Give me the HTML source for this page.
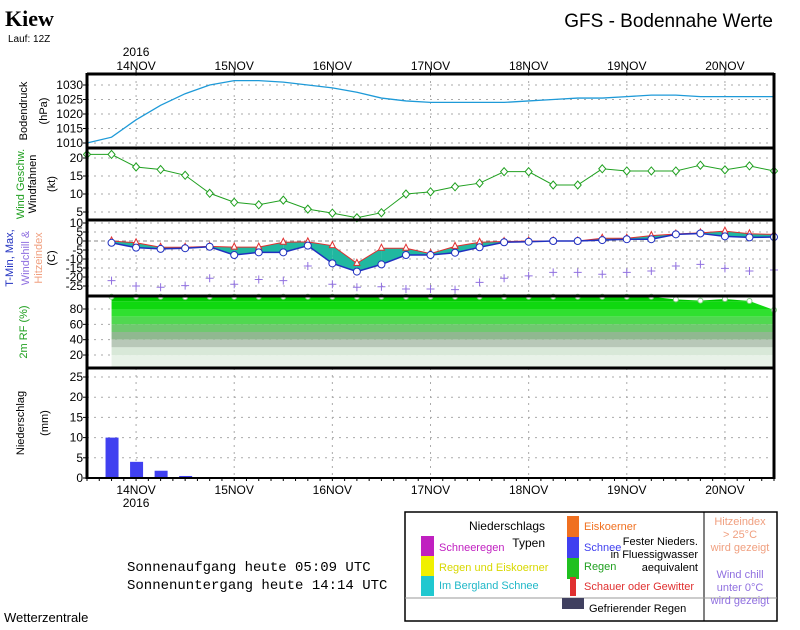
<!DOCTYPE html>
<html><head><meta charset="utf-8"><style>
body{margin:0;background:#fff;width:800px;height:625px;overflow:hidden;font-family:"Liberation Sans",sans-serif}
</style></head><body>
<svg id="c" width="800" height="625" xmlns="http://www.w3.org/2000/svg" font-family="Liberation Sans, sans-serif">
<text x="5" y="26" font-family="Liberation Serif, serif" font-weight="bold" font-size="22">Kiew</text>
<text x="8" y="42" font-size="10">Lauf: 12Z</text>
<text x="773" y="27" text-anchor="end" font-size="19">GFS - Bodennahe Werte</text>
<g id="g"></g>
<text x="127" y="571" font-family="Liberation Mono, monospace" font-size="14">Sonnenaufgang heute 05:09 UTC</text>
<text x="127" y="589" font-family="Liberation Mono, monospace" font-size="14">Sonnenuntergang heute 14:14 UTC</text>
<text x="4" y="622" font-size="13">Wetterzentrale</text>
<g font-size="11">
<rect x="405" y="512" width="372" height="109" fill="none" stroke="#000" stroke-width="1.5"/>
<line x1="704" y1="512" x2="704" y2="621" stroke="#000"/>
<line x1="405" y1="598" x2="777" y2="598" stroke="#999"/>
<text x="545" y="530" text-anchor="end" font-size="12">Niederschlags</text>
<text x="545" y="547" text-anchor="end" font-size="12">Typen</text>
<rect x="421" y="536" width="13" height="20" fill="#c020c0"/><text x="439" y="551" fill="#c020c0">Schneeregen</text>
<rect x="421" y="556" width="13" height="20" fill="#f0f000"/><text x="439" y="571" fill="#d8d800">Regen und Eiskoerner</text>
<rect x="421" y="576" width="13" height="20" fill="#20c8d0"/><text x="439" y="589" fill="#20b8c8">Im Bergland Schnee</text>
<rect x="567" y="516" width="12" height="21" fill="#f07020"/><text x="584" y="530" fill="#f07020">Eiskoerner</text>
<rect x="567" y="537" width="12" height="21" fill="#4040f0"/><text x="584" y="551" fill="#4040f0">Schnee</text>
<rect x="567" y="558" width="12" height="21" fill="#20c020"/><text x="584" y="570" fill="#20a020">Regen</text>
<rect x="570" y="577" width="6" height="19" fill="#e03030"/><text x="584" y="590" fill="#e03030">Schauer oder Gewitter</text>
<rect x="562" y="598" width="22" height="11" fill="#404060"/><text x="589" y="612">Gefrierender Regen</text>
<text x="698" y="545" text-anchor="end">Fester Nieders.</text>
<text x="698" y="558" text-anchor="end">in Fluessigwasser</text>
<text x="698" y="571" text-anchor="end">aequivalent</text>
<g text-anchor="middle" fill="#f0a080"><text x="740" y="525">Hitzeindex</text><text x="740" y="538">&gt; 25°C</text><text x="740" y="551">wird gezeigt</text></g>
<g text-anchor="middle" fill="#9070e0"><text x="740" y="578">Wind chill</text><text x="740" y="591">unter 0°C</text><text x="740" y="604">wird gezeigt</text></g>
</g>
</svg>
<script>
const pressure=[1010,1012,1018,1023,1027,1030,1031.5,1031.5,1031,1030,1029,1027.5,1025.5,1024.5,1024,1024,1024,1024,1024.5,1025,1025.5,1025.5,1026,1026.5,1026.5,1026,1026,1026,1026];
const wind=[21,21,17.5,16.8,15.2,10.2,7.7,7,8.3,5.8,4.7,3.4,4.8,10,10.6,12,13,16.2,16.2,12.5,12.5,17,16.4,16.4,16.4,18,16.7,17.8,16.4];
const tmin=[null,-1,-3.7,-4.4,-4,-3.2,-7.8,-6.3,-6.3,-2.6,-12.4,-17,-13,-7.8,-7.8,-6.5,-3.5,-0.7,-0.4,0,0,0.5,1,1,3.7,4.2,2.6,2,2.2];
const tmax=[null,0,-1,-3.5,-3.5,-3,-3.4,-3.4,-0.7,-0.5,-2.6,-12.4,-4,-4,-7,-3,-0.7,-0.3,0,0,0,1.5,1.5,3,3.9,4.5,5.5,4,3.7];
const chill=[null,-22,-25,-25.7,-24.8,-20.7,-24,-21.4,-22,-13.9,-24,-25.7,-25.4,-26.7,-26.7,-27,-23,-20.7,-19.4,-17.4,-17.4,-18.5,-17.4,-16.7,-13.9,-13,-15.2,-16.7,-16.1];
const rh=[null,96,96,96,95.5,96,96,96,96,96,96,96,96,96,96,96,96,96,96,96,96,96,96,96,92.6,91,93,90.4,78.7];
const precip=[0,10,4,1.8,0.5,0,0,0,0,0,0,0,0,0,0,0,0,0,0,0,0,0,0,0,0.2,0,0,0,0];
const dayLabels=["14NOV","15NOV","16NOV","17NOV","18NOV","19NOV","20NOV"];
const NS="http://www.w3.org/2000/svg",G=document.getElementById('g');
const X0=87,X1=774,DAY=(X1-X0)/7;
const xs=i=>X0+i*DAY/4;
function el(t,a,p){const e=document.createElementNS(NS,t);for(const k in a)e.setAttribute(k,a[k]);(p||G).appendChild(e);return e;}
function txt(x,y,s,a){const e=el('text',Object.assign({x:x,y:y,'font-size':11},a||{}));e.textContent=s;return e;}
const panels=[
 {name:'pressure',top:74,bot:148,y:v=>85+(1030-v)*2.9,ticks:[1010,1015,1020,1025,1030]},
 {name:'wind',top:148,bot:220,y:v=>158+(20-v)*3.6,ticks:[5,10,15,20]},
 {name:'temperature',top:220,bot:296,y:v=>241-v*1.8,ticks:[10,5,0,-5,-10,-15,-20,-25]},
 {name:'humidity',top:296,bot:368,y:v=>309+(80-v)*0.767,ticks:[20,40,60,80]},
 {name:'precip',top:368,bot:478,y:v=>478-v*4.04,ticks:[0,5,10,15,20,25]}];
const P={};panels.forEach(p=>P[p.name]=p);
// grids
panels.forEach(p=>{
 p.ticks.forEach(t=>{const y=p.y(t);
  let l=el('line',{x1:X0,x2:X1,y1:y,y2:y,stroke:'#aaa','stroke-dasharray':'2,5'});
  
  let tt=txt(X0-4,y+4,String(t),{'text-anchor':'end','font-size':12});
  
  el('line',{x1:X0-4,x2:X0,y1:y,y2:y,stroke:'#000'});
 });
 dayLabels.forEach((d,i)=>{const x=X0+(i+0.5)*DAY;el('line',{x1:x,x2:x,y1:p.top,y2:p.bot,stroke:'#aaa','stroke-dasharray':'2,5'});});
});
// RH fill bands
const rhPts=rh.map((v,i)=>v==null?null:[xs(i),P.humidity.y(v)]).filter(Boolean);
const bands=[[100,'#00c800'],[90,'#10d810'],[80,'#30e030'],[70,'#50d850'],[60,'#70c870'],[50,'#90b890'],[40,'#b8c8b8'],[30,'#d8e8d8'],[20,'#e8f2e8']];
const clipId='rhclip';const cp=el('clipPath',{id:clipId});
el('polygon',{points:rhPts.map(p=>p.join(',')).join(' ')+` ${xs(28)},368 ${xs(1)},368`},cp);
bands.forEach((b,k)=>{const yt=P.humidity.y(b[0]),yb=k<bands.length-1?P.humidity.y(bands[k+1][0]):368;
 const r=el('rect',{x:xs(1),y:yt,width:xs(28)-xs(1),height:yb-yt,fill:b[1],'clip-path':'url(#'+clipId+')'});
 });
rhPts.forEach(p=>{const c=el('circle',{cx:p[0],cy:p[1],r:2.5,fill:'#fff',stroke:'#8c8'});});
// pressure line
let pl=el('polyline',{points:pressure.map((v,i)=>xs(i)+','+P.pressure.y(v)).join(' '),fill:'none',stroke:'#1e9ad8','stroke-width':1.3});

// wind
let wl=el('polyline',{points:wind.map((v,i)=>xs(i)+','+P.wind.y(v)).join(' '),fill:'none',stroke:'#20a020','stroke-width':1});

wind.forEach((v,i)=>{const x=xs(i),y=P.wind.y(v);const d=el('polygon',{points:`${x},${y-4} ${x+3.5},${y} ${x},${y+4} ${x-3.5},${y}`,fill:'#fff',stroke:'#20a020'});
 });
// temperature
const T=P.temperature;el('line',{x1:X0,x2:X1,y1:T.y(0),y2:T.y(0),stroke:'#888','stroke-dasharray':'4,3'});
for(let i=1;i<tmin.length-1;i++){
 const a=[xs(i),T.y(tmax[i])],b=[xs(i+1),T.y(tmax[i+1])],c=[xs(i+1),T.y(tmin[i+1])],d=[xs(i),T.y(tmin[i])];
 const f=el('polygon',{points:[a,b,c,d].map(p=>p.join(',')).join(' '),fill:'#20b8a0'});
 
}
const mx=tmax.map((v,i)=>v==null?null:xs(i)+','+T.y(v)).filter(Boolean).join(' ');
const mn=tmin.map((v,i)=>v==null?null:xs(i)+','+T.y(v)).filter(Boolean).join(' ');
let ml=el('polyline',{points:mx,fill:'none',stroke:'#e03030'});
let nl=el('polyline',{points:mn,fill:'none',stroke:'#2030c0','stroke-width':1.5});
tmax.forEach((v,i)=>{if(v==null)return;const x=xs(i),y=T.y(v);const m=el('polygon',{points:`${x},${y-4} ${x+3},${y+2} ${x-3},${y+2}`,fill:'#fff',stroke:'#e03030'});});
tmin.forEach((v,i)=>{if(v==null)return;const m=el('circle',{cx:xs(i),cy:T.y(v),r:3.5,fill:'#fff',stroke:'#2030c0'});});
chill.forEach((v,i)=>{if(v==null)return;const x=xs(i),y=T.y(v);const g=el('path',{d:`M${x-4},${y}H${x+4}M${x},${y-4}V${y+4}`,stroke:'#9070e0','stroke-width':1});});
// precipitation bars
precip.forEach((v,i)=>{if(!v)return;const y=P.precip.y(v);const b=el('rect',{x:xs(i)-6,y:y,width:13,height:478-y,fill:'#4040f0'});});
// borders
panels.forEach(p=>{el('line',{x1:X0,x2:X1,y1:p.top,y2:p.top,stroke:'#000','stroke-width':3});});
el('line',{x1:X0,x2:X1,y1:478,y2:478,stroke:'#000','stroke-width':2});
el('line',{x1:X0,x2:X0,y1:73,y2:479,stroke:'#000','stroke-width':3});
el('line',{x1:X1,x2:X1,y1:73,y2:479,stroke:'#000','stroke-width':3});
for(let i=0;i<=56;i++){const x=X0+i*DAY/8;el('line',{x1:x,x2:x,y1:478,y2:481,stroke:'#000'});}
dayLabels.forEach((d,i)=>{const x=X0+(i+0.5)*DAY;
 let a=txt(x,70,d,{'text-anchor':'middle','font-size':12});
 let b=txt(x,494,d,{'text-anchor':'middle','font-size':12});
 el('line',{x1:x,x2:x,y1:70,y2:74,stroke:'#000'});});
txt(X0+0.5*DAY,56,'2016',{'text-anchor':'middle','font-size':12});
txt(X0+0.5*DAY,507,'2016',{'text-anchor':'middle','font-size':12});
// y-axis titles
function ytitle(x,y,s,col,name){const t=txt(0,0,s,{transform:`translate(${x},${y}) rotate(-90)`,'text-anchor':'middle',fill:col,'font-size':11});}
ytitle(27,111,'Bodendruck','#000','pressure-axis-title');ytitle(47,111,'(hPa)','#000','pressure-unit');
ytitle(24,184,'Wind Geschw.','#20a020','wind-axis-title');ytitle(36,184,'Windfahnen','#000','windvane-title');ytitle(55,184,'(kt)','#000','wind-unit');
ytitle(13,258,'T-Min, Max,','#2030c0','temp-axis-title');ytitle(29,258,'Windchill &','#9070e0','windchill-title');ytitle(42,258,'Hitzeindex','#f0a080','heatindex-title');ytitle(55,258,'(C)','#000','temp-unit');
ytitle(27,332,'2m RF (%)','#20a020','humidity-axis-title');
ytitle(24,423,'Niederschlag','#000','precip-axis-title');ytitle(48,423,'(mm)','#000','precip-unit');
</script>
</body></html>
